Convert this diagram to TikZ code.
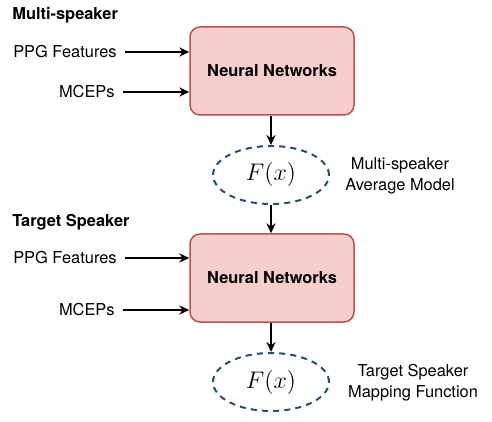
\documentclass[tikz,border=0pt]{standalone}
\usepackage{fontspec}
\setmainfont{TeX Gyre Heros}
\usepackage{xcolor}
\usepackage{tikz}
\usetikzlibrary{positioning, arrows.meta, shapes.geometric}

\definecolor{netred}{HTML}{B85450}
\definecolor{netpink}{HTML}{F8CECC}
\definecolor{funcblue}{HTML}{1F4E79}

\begin{document}
\begin{tikzpicture}[x=0.5pt, y=-0.5pt,
  font=\fontsize{8.2}{10.5}\selectfont,
  net/.style={draw=netred, fill=netpink, line width=0.75pt, rounded corners=5pt,
    minimum width=82pt, minimum height=44pt, font=\fontsize{8.2}{10.5}\selectfont\bfseries},
  func/.style={ellipse, draw=funcblue, line width=1pt, dash pattern=on 3pt off 2.6pt,
    minimum width=58pt, minimum height=29pt, inner sep=0pt, font=\fontsize{12.4}{14}\selectfont},
  feat/.style={anchor=east, inner sep=1pt},
  head/.style={anchor=west, inner sep=1pt, font=\fontsize{8.2}{10.5}\selectfont\bfseries},
  note/.style={align=center, inner sep=1pt},
  flow/.style={-{Stealth[length=5pt, width=4.6pt]}, line width=0.75pt}]
  \useasboundingbox (0,0) rectangle (492,422);

  % Multi-speaker stage
  \node[head] (t1) at (10,15) {Multi-speaker};
  \node[net] (nn1) at (272,71) {Neural Networks};
  \node[feat] (ppg1) at (119,52) {PPG Features};
  \node[feat] (mc1) at (117,92) {MCEPs};
  \node[func] (f1) at (271,175) {$F(x)$};
  \node[note] (n1) at (400,176) {Multi-speaker\\Average Model};

  % Target speaker stage
  \node[head] (t2) at (10,222) {Target Speaker};
  \node[net] (nn2) at (272,278) {Neural Networks};
  \node[feat] (ppg2) at (119,258) {PPG Features};
  \node[feat] (mc2) at (117,310) {MCEPs};
  \node[func] (f2) at (271,382) {$F(x)$};
  \node[note] (n2) at (413,383) {Target Speaker\\Mapping Function};

  % Arrows
  \foreach \i in {1,2} {
    \draw[flow, shorten <=3pt] (ppg\i.east) -- (ppg\i.east -| nn\i.west);
    \draw[flow, shorten <=3pt] (mc\i.east) -- (mc\i.east -| nn\i.west);
    \draw[flow] (nn\i.south -| f\i.north) -- (f\i.north);
  }
  \draw[flow] (f1.south) -- (f1.south |- nn2.north);
\end{tikzpicture}
\end{document}
